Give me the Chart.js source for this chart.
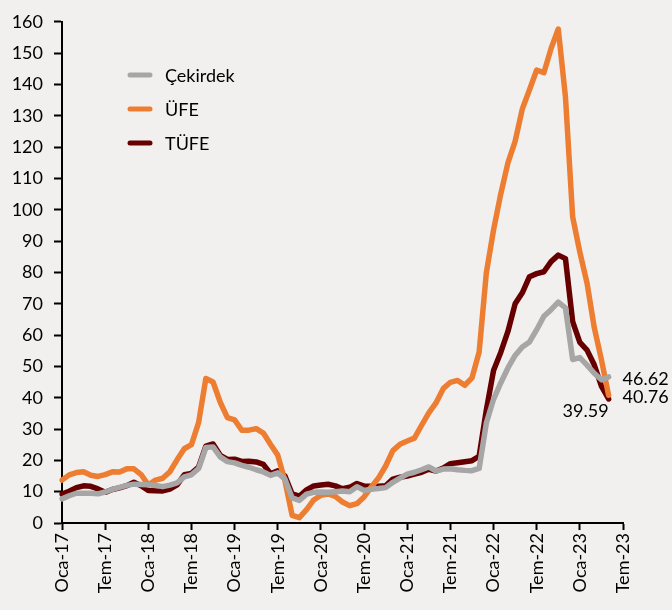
<!DOCTYPE html>
<html>
<head>
<meta charset="utf-8">
<script src="https://cdn.jsdelivr.net/npm/chart.js@4"></script>
<style>
  html, body { margin: 0; padding: 0; background: #f2f0ef; }
  #wrap { width: 672px; height: 610px; }
</style>
</head>
<body>
<div id="wrap"><canvas id="grafik" width="672" height="610"></canvas></div>
<script>
// Aylar ve yıllar (eksen etiketleri)
const aylar = ["Oca", "Şub", "Mar", "Nis", "May", "Haz", "Tem", "Ağu", "Eyl", "Eki", "Kas", "Ara"];
const yillar = [17, 18, 19, 20, 21, 22, 23];
const sonAy = 7; // Tem-23'e kadar eksen

// Yıllık değişim (%) — Oca-17 .. May-23
const cekirdek = [
  7.7, 8.7, 9.5, 9.5, 9.5, 9.3, 9.9, 10.7, 11.4, 12.0, 12.4, 12.3,
  12.2, 12.0, 11.6, 12.1, 12.8, 14.7, 15.4, 17.4, 24.1, 24.3, 21.1, 19.6,
  19.2, 18.4, 17.8, 17.0, 16.3, 15.2, 16.0, 14.0, 8.0, 7.2, 9.2, 9.8,
  9.9, 9.8, 10.0, 10.2, 10.0, 11.6, 10.4, 10.8, 11.0, 11.3, 13.0, 14.3,
  15.6, 16.2, 17.0, 17.9, 16.6, 17.2, 17.3, 17.0, 16.8, 16.7, 17.4, 31.9,
  39.5, 44.7, 49.5, 53.5, 56.2, 57.8, 61.7, 66.0, 68.1, 70.5, 68.7, 52.2,
  52.8, 50.4, 47.8, 45.7, 46.62
];
const ufe = [
  13.69, 15.36, 16.09, 16.37, 15.26, 14.87, 15.45, 16.34, 16.28, 17.28, 17.30, 15.47,
  12.14, 13.71, 14.28, 16.37, 20.16, 23.71, 25.00, 32.13, 46.15, 45.01, 38.54, 33.64,
  32.93, 29.59, 29.64, 30.12, 28.71, 25.04, 21.66, 13.45, 2.45, 1.70, 4.26, 7.36,
  8.84, 9.26, 8.50, 6.71, 5.53, 6.17, 8.33, 11.53, 14.33, 18.20, 23.11, 25.15,
  26.16, 27.09, 31.20, 35.17, 38.33, 42.89, 44.92, 45.52, 43.96, 46.31, 54.62, 79.89,
  93.53, 105.01, 114.97, 121.82, 132.16, 138.31, 144.61, 143.75, 151.50, 157.69, 136.02, 97.72,
  86.46, 76.61, 62.43, 52.11, 40.76
];
const tufe = [
  9.22, 10.13, 11.29, 11.87, 11.72, 10.90, 9.79, 10.68, 11.20, 11.90, 12.98, 11.92,
  10.35, 10.26, 10.23, 10.85, 12.15, 15.39, 15.85, 17.90, 24.52, 25.24, 21.62, 20.30,
  20.35, 19.67, 19.71, 19.50, 18.71, 15.72, 16.65, 15.01, 9.26, 8.55, 10.56, 11.84,
  12.15, 12.37, 11.86, 10.94, 11.39, 12.62, 11.76, 11.77, 11.75, 11.89, 14.03, 14.60,
  14.97, 15.61, 16.19, 17.14, 16.59, 17.53, 18.95, 19.25, 19.58, 19.89, 21.31, 36.08,
  48.69, 54.44, 61.14, 69.97, 73.50, 78.62, 79.60, 80.21, 83.45, 85.51, 84.39, 64.27,
  57.68, 55.18, 50.51, 43.68, 39.59
];

const etiketler = [];
yillar.forEach(y => {
  aylar.forEach((a, i) => {
    if (y === 23 && i >= sonAy) return;
    etiketler.push(`${a}-${y}`);
  });
});

const FONT = "Lato, 'Open Sans', sans-serif";
const renkCekirdek = "#a6a6a6";
const renkUfe = "#ed7d31";
const renkTufe = "#660000";

// Arka plan
const arkaPlan = {
  id: "arkaPlan",
  beforeDraw(chart) {
    const c = chart.ctx;
    c.save();
    c.fillStyle = "#f2f0ef";
    c.fillRect(0, 0, chart.width, chart.height);
    c.restore();
  }
};

// Excel tarzı lejant
const lejant = {
  id: "lejant",
  afterDraw(chart) {
    const c = chart.ctx;
    c.save();
    c.font = `18px ${FONT}`;
    c.textBaseline = "middle";
    chart.data.datasets.forEach((ds, i) => {
      const y = 75 + i * 34;
      c.strokeStyle = ds.borderColor;
      c.lineWidth = 5;
      c.lineCap = "round";
      c.beginPath();
      c.moveTo(130, y);
      c.lineTo(150, y);
      c.stroke();
      c.fillStyle = "#000";
      c.fillText(ds.label, 165, y + 1);
    });
    c.restore();
  }
};

// Son değer etiketleri
const sonDegerler = {
  id: "sonDegerler",
  afterDatasetsDraw(chart) {
    const c = chart.ctx;
    c.save();
    c.font = `18px ${FONT}`;
    c.fillStyle = "#000";
    chart.data.datasets.forEach((ds, i) => {
      const meta = chart.getDatasetMeta(i);
      const n = ds.data.length - 1;
      const p = meta.data[n];
      const txt = ds.data[n].toFixed(2);
      c.textBaseline = "middle";
      if (ds.label === "TÜFE") {
        c.textAlign = "right";
        c.fillText(txt, p.x, p.y + 12);
      } else {
        c.textAlign = "left";
        c.fillText(txt, p.x + 14, p.y + 2);
      }
    });
    c.restore();
  }
};

new Chart(document.getElementById("grafik"), {
  type: "line",
  data: {
    labels: etiketler,
    datasets: [
      { label: "Çekirdek", data: cekirdek, borderColor: renkCekirdek },
      { label: "ÜFE", data: ufe, borderColor: renkUfe },
      { label: "TÜFE", data: tufe, borderColor: renkTufe }
    ].map(d => Object.assign(d, {
      borderWidth: 5.5,
      pointRadius: 0,
      tension: 0,
      fill: false,
      borderJoinStyle: "round",
      borderCapStyle: "round"
    }))
  },
  options: {
    responsive: false,
    animation: false,
    devicePixelRatio: 1,
    layout: { padding: { top: 11, right: 49, left: 0, bottom: 0 } },
    plugins: { legend: { display: false }, tooltip: { enabled: false } },
    scales: {
      x: {
        type: "category",
        offset: false,
        grid: { drawOnChartArea: false, drawTicks: true, tickLength: 7, tickColor: "#000", tickWidth: 2 },
        border: { display: true, color: "#000", width: 2 },
        ticks: {
          autoSkip: false,
          maxRotation: 90,
          minRotation: 90,
          padding: 3,
          color: "#000",
          font: { family: FONT, size: 18 },
          callback: function (v, i) { return i % 6 === 0 ? this.getLabelForValue(v) : null; }
        },
        afterFit: s => { s.height = 87; }
      },
      y: {
        min: 0,
        max: 160,
        grid: { drawOnChartArea: false, drawTicks: true, tickLength: 8, tickColor: "#000", tickWidth: 2 },
        border: { display: true, color: "#000", width: 2 },
        ticks: {
          stepSize: 10,
          padding: 11,
          color: "#000",
          font: { family: FONT, size: 18 }
        },
        afterFit: s => { s.width = 62; }
      }
    }
  },
  plugins: [arkaPlan, lejant, sonDegerler]
});
</script>
</body>
</html>
